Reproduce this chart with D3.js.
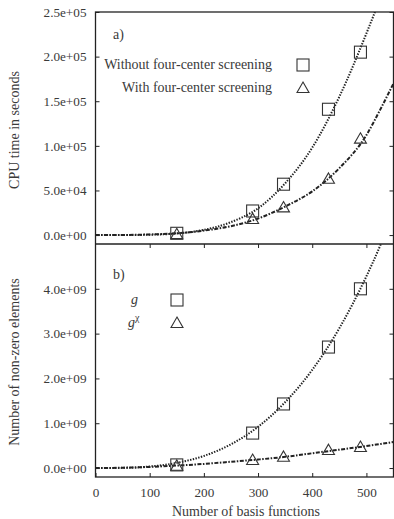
<!DOCTYPE html>
<html>
<head>
<meta charset="utf-8">
<script src="https://cdn.jsdelivr.net/npm/d3@7"></script>
<style>
  body { margin: 0; background: #fff; }
  svg text { font-family: "Liberation Serif", "Times New Roman", "DejaVu Serif", serif !important; fill: #3a3a3a; }
</style>
</head>
<body>
<svg id="chart" width="394" height="519"></svg>
<script>
// measured points, panel a) CPU time
const basis = [150, 290, 347, 430, 489];
const cpuWithout = [2000, 27000, 57000, 141000, 205000];
const cpuWith = [1000, 18000, 31000, 63000, 108000];

// fitted curves
const curveX = [0, 50, 100, 150, 200, 250, 300, 350, 400, 450, 500, 525, 550];
const fitWithout = [0, 30, 400, 1800, 5800, 14500, 30000, 58000, 98000, 155000, 226000, 265000, 310000];
const fitWith = [0, 100, 700, 2000, 5000, 10000, 18500, 32000, 49000, 75000, 112000, 140000, 170000];

// panel b) non-zero elements
const nzG = [0.07e9, 0.78e9, 1.43e9, 2.70e9, 4.0e9];
const nzGchi = [0.05e9, 0.18e9, 0.25e9, 0.40e9, 0.47e9];
const fitG = [0, 0.004e9, 0.034e9, 0.115e9, 0.27e9, 0.53e9, 0.92e9, 1.47e9, 2.19e9, 3.12e9, 4.28e9, 4.95e9, 5.7e9];
const fitGchi = [0, 0.007e9, 0.025e9, 0.055e9, 0.092e9, 0.14e9, 0.19e9, 0.25e9, 0.33e9, 0.41e9, 0.49e9, 0.535e9, 0.58e9];

const xTicks = [0, 100, 200, 300, 400, 500];
const topTicks = [0, 5e4, 1e5, 1.5e5, 2e5, 2.5e5];
const botTicks = [0, 1e9, 2e9, 3e9, 4e9];

const svg = d3.select("#chart");
const left = 95.5, right = 393.5;
const topY0 = 12, midY = 244, botY1 = 477;

const x = d3.scaleLinear().domain([0, 550]).range([left, right]);
const yTop = d3.scaleLinear().domain([-1e4, 2.5e5]).range([midY, topY0]);
const yBot = d3.scaleLinear().domain([-2e8, 5e9]).range([botY1, midY]);

const fmt = v => d3.format(".1e")(v).replace(/e([+-])(\d)$/, "e$10$2");

const ink = "#222";
const serif = "'Liberation Serif', 'Times New Roman', serif";
const tickFont = 13.2;

// clip paths
const defs = svg.append("defs");
defs.append("clipPath").attr("id", "clipTop").append("rect")
  .attr("x", left).attr("y", topY0).attr("width", right - left).attr("height", midY - topY0);
defs.append("clipPath").attr("id", "clipBot").append("rect")
  .attr("x", left).attr("y", midY).attr("width", right - left).attr("height", botY1 - midY);

function axes(y, ticks) {
  const la = svg.append("g").attr("transform", `translate(${left},0)`)
    .call(d3.axisLeft(y).tickValues(ticks).tickSize(-4).tickPadding(9).tickFormat(fmt));
  const ra = svg.append("g").attr("transform", `translate(${right},0)`)
    .call(d3.axisRight(y).tickValues(ticks).tickSize(-4).tickFormat(""));
  [la, ra].forEach(g => {
    g.attr("font-family", serif);
    g.select(".domain").remove();
    g.selectAll("line").attr("stroke", ink);
    g.selectAll("text").attr("font-size", tickFont);
  });
}
axes(yTop, topTicks);
axes(yBot, botTicks);

// x axis at bottom
const xa = svg.append("g").attr("transform", `translate(0,${botY1})`)
  .call(d3.axisBottom(x).tickValues(xTicks).tickSize(-4).tickPadding(11).tickFormat(d3.format("d")));
xa.attr("font-family", serif);
xa.select(".domain").remove();
xa.selectAll("line").attr("stroke", ink);
xa.selectAll("text").attr("font-size", tickFont);

// mirror ticks on the shared line
const xm = svg.append("g").attr("transform", `translate(0,${midY})`)
  .call(d3.axisBottom(x).tickValues(xTicks.slice(1)).tickSize(4).tickFormat(""));
xm.select(".domain").remove();
xm.selectAll("line").attr("stroke", ink);

// frames
svg.append("rect").attr("x", left).attr("y", topY0).attr("width", right - left).attr("height", botY1 - topY0)
  .attr("fill", "none").attr("stroke", ink).attr("stroke-width", 1.3);
svg.append("line").attr("x1", left).attr("x2", right).attr("y1", midY).attr("y2", midY)
  .attr("stroke", ink).attr("stroke-width", 1.3);

// curves
function curve(y, vals, clip, dash) {
  const line = d3.line().x((d, i) => x(curveX[i])).y(d => y(d)).curve(d3.curveMonotoneX);
  svg.append("path").datum(vals).attr("d", line).attr("clip-path", `url(#${clip})`)
    .attr("fill", "none").attr("stroke", ink).attr("stroke-width", 2)
    .attr("stroke-dasharray", dash);
}
const dotted = "1.4,1.4";
const dashdot = "4,1.5,1.5,1.5";
curve(yTop, fitWithout, "clipTop", dotted);
curve(yTop, fitWith, "clipTop", dashdot);
curve(yBot, fitG, "clipBot", dotted);
curve(yBot, fitGchi, "clipBot", dashdot);

// markers
function squares(y, vals) {
  svg.append("g").selectAll("rect").data(vals).join("rect")
    .attr("x", (d, i) => x(basis[i]) - 6).attr("y", d => y(d) - 6)
    .attr("width", 12).attr("height", 12)
    .attr("fill", "none").attr("stroke", "#333").attr("stroke-width", 1.1);
}
const tri = d3.symbol().type(d3.symbolTriangle).size(62);
function triangles(y, vals) {
  svg.append("g").selectAll("path").data(vals).join("path")
    .attr("transform", (d, i) => `translate(${x(basis[i])},${y(d) + 1})`)
    .attr("d", tri)
    .attr("fill", "none").attr("stroke", "#333").attr("stroke-width", 1.1);
}
squares(yTop, cpuWithout);
triangles(yTop, cpuWith);
squares(yBot, nzG);
triangles(yBot, nzGchi);

// legends
function label(txt, lx, ly, anchor, size, style) {
  return svg.append("text").attr("x", lx).attr("y", ly).attr("text-anchor", anchor || "start")
    .attr("font-family", serif)
    .attr("font-size", size || 14).attr("font-style", style || "normal").text(txt);
}
label("a)", 113, 39);
label("Without four-center screening", 272, 69, "end");
label("With four-center screening", 272, 92, "end");
svg.append("rect").attr("x", 297).attr("y", 59).attr("width", 12).attr("height", 12)
  .attr("fill", "none").attr("stroke", "#333").attr("stroke-width", 1.1);
svg.append("path").attr("transform", "translate(303,89)").attr("d", tri)
  .attr("fill", "none").attr("stroke", "#333").attr("stroke-width", 1.1);

label("b)", 113, 279);
label("g", 131, 304, "start", 14, "italic");
const gchi = label("g", 128, 327, "start", 14, "italic");
gchi.append("tspan").attr("dy", -6).attr("font-size", 10).attr("font-style", "normal").text("χ");
svg.append("rect").attr("x", 171).attr("y", 294).attr("width", 12).attr("height", 12)
  .attr("fill", "none").attr("stroke", "#333").attr("stroke-width", 1.1);
svg.append("path").attr("transform", "translate(177,324)").attr("d", tri)
  .attr("fill", "none").attr("stroke", "#333").attr("stroke-width", 1.1);

// axis titles
label("Number of basis functions", 246, 516, "middle", 14);
svg.append("text").attr("transform", "translate(19,130) rotate(-90)").attr("text-anchor", "middle")
  .attr("font-family", serif).attr("font-size", 14).text("CPU time in seconds");
svg.append("text").attr("transform", "translate(19,362) rotate(-90)").attr("text-anchor", "middle")
  .attr("font-family", serif).attr("font-size", 14).text("Number of non-zero elements");
</script>
</body>
</html>
